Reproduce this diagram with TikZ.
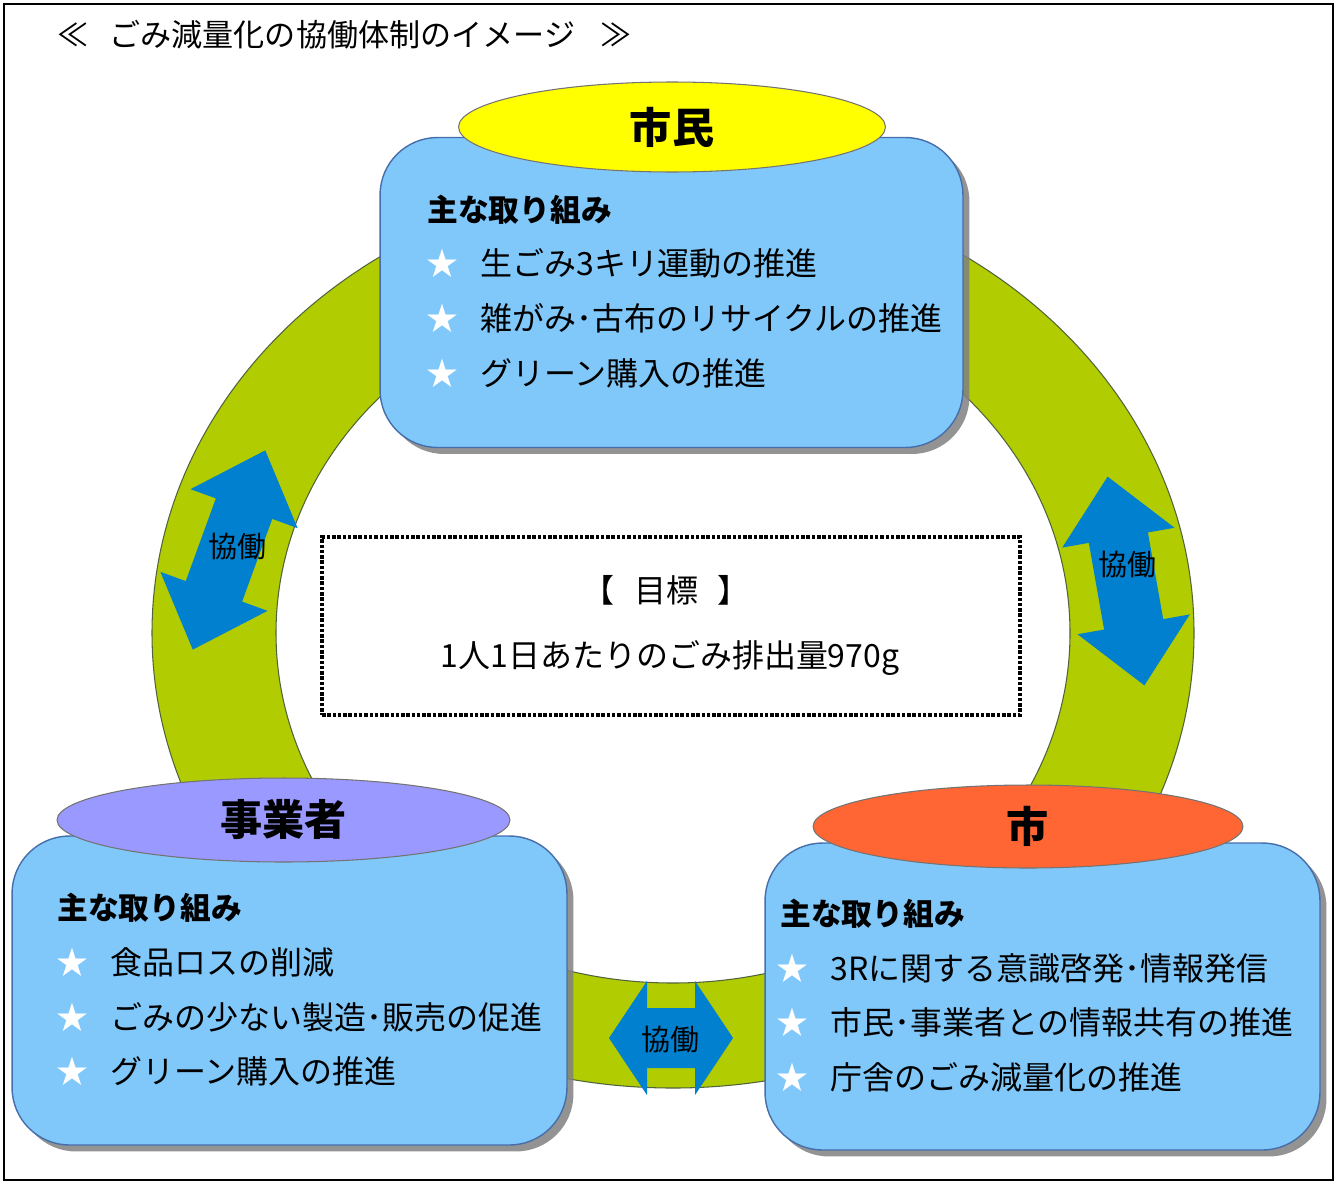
\documentclass[tikz,border=0pt]{standalone}
\usepackage{fontspec}
\setmainfont{Noto Sans CJK JP}
\usetikzlibrary{shapes,shadows,positioning}

\definecolor{boxblue}{RGB}{128,200,250}
\definecolor{boxline}{RGB}{70,110,170}
\definecolor{ringgreen}{RGB}{178,204,2}
\definecolor{ringline}{RGB}{80,100,60}
\definecolor{arrowblue}{RGB}{0,128,206}
\definecolor{badgeyellow}{RGB}{255,255,0}
\definecolor{badgepurple}{RGB}{153,153,255}
\definecolor{badgeorange}{RGB}{255,102,51}

\newcommand{\fsize}[1]{\fontsize{#1}{#1}\selectfont}
\newcommand{\kyodoarrow}[4]{\fill[arrowblue, shift={#1}, rotate=#2]
  (#3,0) -- (#3-#4,57) -- (#3-#4,30) -- (-#3+#4,30) -- (-#3+#4,57) -- (-#3,0)
  -- (-#3+#4,-57) -- (-#3+#4,-30) -- (#3-#4,-30) -- (#3-#4,-57) -- cycle;}

\begin{document}
\begin{tikzpicture}[x=0.02cm, y=-0.02cm,
  box/.style={rectangle, rounded corners=1.15cm, draw=boxline, line width=0.8pt, fill=boxblue,
    drop shadow={shadow xshift=0.13cm, shadow yshift=-0.13cm, fill=gray, opacity=0.85},
    minimum width=11.1cm, minimum height=6.18cm},
  badge/.style={ellipse, draw=black!55, line width=0.6pt, inner sep=0pt, font=\fsize{24}\bfseries},
  head/.style={anchor=west, inner sep=0pt, font=\fsize{17.5}\bfseries},
  item/.style={anchor=west, inner sep=0pt, font=\fsize{18.2},
    label={[text=white, label distance=0.3cm, font=\fsize{18.2}]left:★}},
  kyodo/.style={font=\fsize{16.5}, inner sep=0pt},
  goalbox/.style={draw, line width=2pt, dash pattern=on 2pt off 1pt, minimum width=13.96cm, minimum height=3.56cm}]

\useasboundingbox (0,0) rectangle (1337,1183);
\draw[line width=1.6pt] (4,4) rectangle (1333,1180);

\node[anchor=west, inner sep=0pt, font=\fsize{17.7}] (title) at (57,35) {≪\hspace{0.42cm}ごみ減量化の協働体制のイメージ\hspace{0.5cm}≫};

\fill[ringgreen, draw=ringline, line width=0.6pt, even odd rule]
  (673,633) ellipse [x radius=521, y radius=455] (673,633) ellipse [x radius=397, y radius=350];

\kyodoarrow{(229,550)}{70}{106}{62}
\kyodoarrow{(1126,581)}{100}{106}{62}
\kyodoarrow{(671,1038)}{0}{62}{38}
\node[kyodo] (kyodoL) at (237,547) {協働};
\node[kyodo] (kyodoR) at (1127,565) {協働};
\node[kyodo] (kyodoB) at (670,1040) {協働};

\node[goalbox] (goal) at (671,626) {};
\node[font=\fsize{18.2}] (goalttl) at (666,590) {【\hspace{0.4cm}目標\hspace{0.4cm}】};
\node[font=\fsize{18.2}] (goaltxt) at (670,658) {1人1日あたりのごみ排出量970g};

\node[box, minimum width=11.66cm, minimum height=6.2cm] (shimin) at (671.5,292.5) {};
\node[badge, fill=badgeyellow, minimum width=8.54cm, minimum height=1.8cm] (shiminb) at (672,127) {市民};
\node[head] (shiminh) at (427,210) {主な取り組み};
\node[item] (shimin1) at (480,263) {生ごみ3キリ運動の推進};
\node[item] (shimin2) at (480,318) {雑がみ･古布のリサイクルの推進};
\node[item] (shimin3) at (480,373) {グリーン購入の推進};

\node[box] (jigyo) at (289.5,990.5) {};
\node[badge, fill=badgepurple, minimum width=9.06cm, minimum height=1.68cm] (jigyob) at (283.5,820) {事業者};
\node[head] (jigyoh) at (57,908) {主な取り組み};
\node[item] (jigyo1) at (110,962) {食品ロスの削減};
\node[item] (jigyo2) at (110,1017) {ごみの少ない製造･販売の促進};
\node[item] (jigyo3) at (110,1071) {グリーン購入の推進};

\node[box, minimum height=6.14cm] (shi) at (1042.5,996.5) {};
\node[badge, fill=badgeorange, minimum width=8.6cm, minimum height=1.66cm] (shib) at (1028,826.5) {市};
\node[head] (shih) at (780,914) {主な取り組み};
\node[item] (shi1) at (830,968) {3Rに関する意識啓発･情報発信};
\node[item] (shi2) at (830,1022) {市民･事業者との情報共有の推進};
\node[item] (shi3) at (830,1077) {庁舎のごみ減量化の推進};
\end{tikzpicture}
\end{document}
